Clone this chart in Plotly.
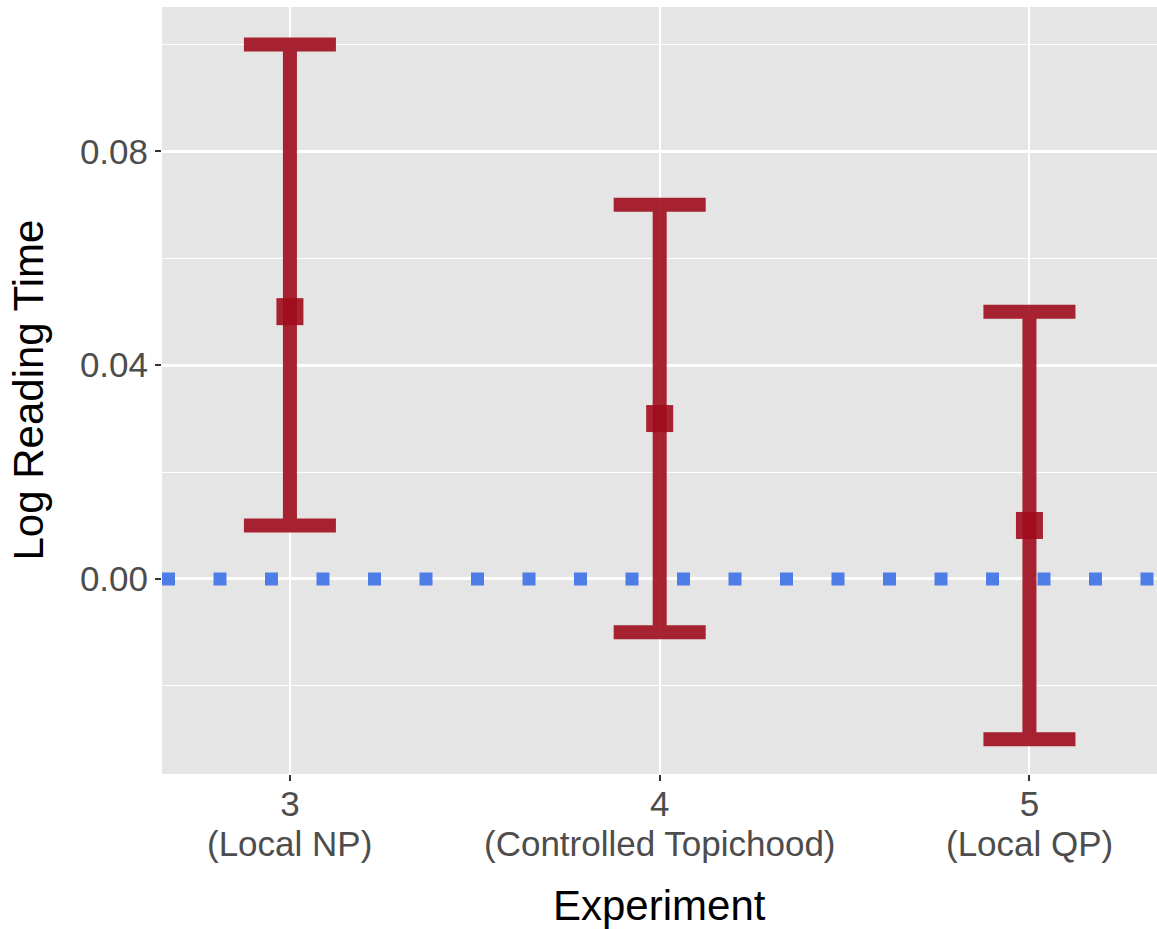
import plotly.graph_objects as go

experiments = [3, 4, 5]
experiment_labels = ["(Local NP)", "(Controlled Topichood)", "(Local QP)"]
means = [0.05, 0.03, 0.01]
upper = [0.10, 0.07, 0.05]
lower = [0.01, -0.01, -0.03]
reference_level = 0.0
y_ticks = [0.00, 0.04, 0.08]
y_tick_text = ["0.00", "0.04", "0.08"]

err_plus = [u - m for u, m in zip(upper, means)]
err_minus = [m - l for m, l in zip(means, lower)]

RED = "rgba(160,12,28,0.9)"
BLUE = "rgb(79,125,231)"
FONT = "Liberation Sans, Arial, sans-serif"

fig = go.Figure()
fig.add_trace(go.Scatter(
    x=experiments, y=means, mode="markers",
    marker=dict(symbol="square", size=27, color=RED, line=dict(width=0)),
    error_y=dict(type="data", symmetric=False, array=err_plus, arrayminus=err_minus,
                 color=RED, thickness=14, width=46),
    showlegend=False, hoverinfo="skip",
))

fig.add_shape(type="line", xref="paper", x0=0, x1=1, yref="y", y0=reference_level, y1=reference_level,
              line=dict(color=BLUE, width=13, dash="13px,38.5px"), layer="above")

for xv, lab in zip(experiments, experiment_labels):
    fig.add_annotation(x=xv, xref="x", y=(774 - 843) / 767, yref="paper", text=lab, showarrow=False,
                       xanchor="center", yanchor="middle",
                       font=dict(family=FONT, size=35, color="#4d4d4d"))

fig.add_annotation(x=(28 - 162) / 995, xref="paper", y=0.5, yref="paper", text="Log Reading Time",
                   textangle=-90, showarrow=False, xanchor="center", yanchor="middle",
                   font=dict(family=FONT, size=42, color="black"))
fig.add_annotation(x=0.5, xref="paper", y=(774 - 905) / 767, yref="paper", text="Experiment",
                   showarrow=False, xanchor="center", yanchor="middle",
                   font=dict(family=FONT, size=42, color="black"))

fig.update_layout(
    width=1157, height=929,
    margin=dict(l=162, r=0, t=7, b=155),
    paper_bgcolor="white", plot_bgcolor="#e5e5e5",
    font=dict(family=FONT),
    showlegend=False,
)
fig.update_xaxes(
    range=[2.654, 5.345], tickmode="array", tickvals=experiments,
    ticktext=[str(e) for e in experiments],
    showgrid=True, gridcolor="white", gridwidth=2.2, zeroline=False,
    ticks="outside", ticklen=6, tickwidth=2, tickcolor="#333333",
    tickfont=dict(family=FONT, size=35, color="#4d4d4d"), showline=False,
    ticklabelstandoff=-7,
)
fig.update_yaxes(
    range=[-0.0365, 0.1070], tickmode="array", tickvals=y_ticks, ticktext=y_tick_text,
    showgrid=True, gridcolor="white", gridwidth=2.6, zeroline=False,
    ticks="outside", ticklen=6, tickwidth=2, tickcolor="#333333",
    tickfont=dict(family=FONT, size=35, color="#4d4d4d"), showline=False,
    minor=dict(dtick=0.02, tick0=0, showgrid=True, gridcolor="white", gridwidth=1.4, ticks=""),
)

fig.write_html("out.html", config={"displayModeBar": False},
               post_script="document.body.style.margin='0';document.body.style.overflow='hidden';")
